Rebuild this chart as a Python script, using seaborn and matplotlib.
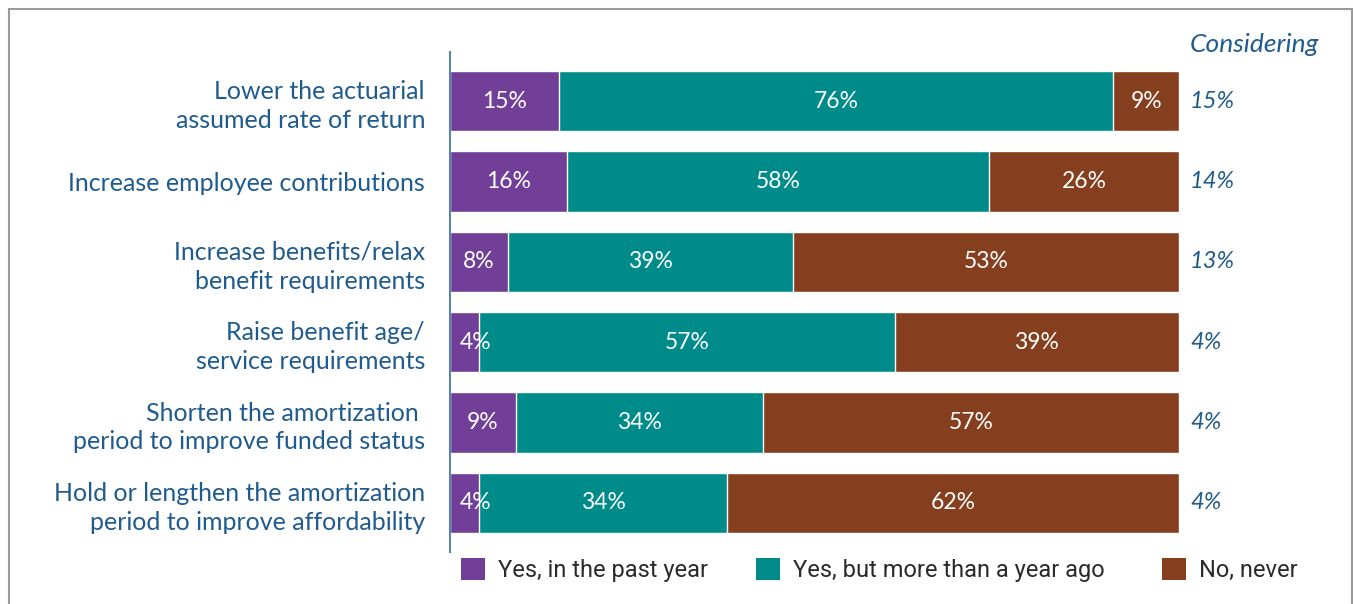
import matplotlib
matplotlib.use("Agg")
import matplotlib.pyplot as plt
import seaborn as sns
import pandas as pd
from matplotlib.patches import Rectangle, Patch
from matplotlib import font_manager

categories = [
    "Lower the actuarial\nassumed rate of return",
    "Increase employee contributions",
    "Increase benefits/relax\nbenefit requirements",
    "Raise benefit age/\nservice requirements",
    "Shorten the amortization \nperiod to improve funded status",
    "Hold or lengthen the amortization\nperiod to improve affordability",
]
series_names = ["Yes, in the past year", "Yes, but more than a year ago", "No, never"]
past_year = [15, 16, 8, 4, 9, 4]
more_than_year = [76, 58, 39, 57, 34, 34]
never = [9, 26, 53, 39, 57, 62]
considering = ["15%", "14%", "13%", "4%", "4%", "4%"]

colors = ["#713F97", "#008B8B", "#853F1F"]
label_color = "#1F5B8E"

sns.set_theme(style="white")
plt.rcParams["font.family"] = ["Lato", "DejaVu Sans"]

avail = {f.name for f in font_manager.fontManager.ttflist}
legend_family = ["Liberation Sans Narrow", "DejaVu Sans"] if "Liberation Sans Narrow" in avail else ["Roboto", "DejaVu Sans"]

fig = plt.figure(figsize=(13.53, 6.04), dpi=100)
ax = fig.add_axes([450/1353, 1-552/604, 729/1353, 500/604])

df = pd.DataFrame({
    "category": categories,
    "past": past_year,
    "more": more_than_year,
    "never": never,
})
df["c1"] = df["past"]
df["c2"] = df["past"] + df["more"]
df["c3"] = df["c2"] + df["never"]

for col, color in zip(["c3", "c2", "c1"], colors[::-1]):
    sns.barplot(data=df, y="category", x=col, orient="h", color=color,
                width=0.75, saturation=1, ax=ax, order=categories)

# segment labels
for i in range(len(categories)):
    starts = [0, past_year[i], past_year[i] + more_than_year[i]]
    vals = [past_year[i], more_than_year[i], never[i]]
    for s, v in zip(starts, vals):
        if v < 6:
            ax.text(s + 1.3, i, f"{v}%", ha="left", va="center",
                    color="white", fontsize=16.5)
        else:
            ax.text(s + v / 2, i, f"{v}%", ha="center", va="center",
                    color="white", fontsize=16.5)
    ax.text(101.5, i, considering[i], ha="left", va="center",
            color=label_color, fontsize=17, style="italic")

ax.text(101.5, -0.7, "Considering", ha="left", va="center",
        color=label_color, fontsize=19, style="italic")

ax.set_xlim(0, 100)
ax.set_ylim(5.61, -0.61)
ax.set_xlabel("")
ax.set_ylabel("")
ax.set_xticks([])
ax.tick_params(axis="y", length=0, pad=18, labelsize=18, labelcolor=label_color)
for lab in ax.get_yticklabels():
    lab.set_horizontalalignment("right")
    lab.set_multialignment("right")
    lab.set_linespacing(1.3)
for s in ["top", "right", "bottom"]:
    ax.spines[s].set_visible(False)
ax.spines["left"].set_color("#5B84AE")
ax.spines["left"].set_linewidth(1.5)

# legend: one entry per legend, placed at the reference positions
legend_x = [461, 756, 1162]
for name, color, lx in zip(series_names, colors, legend_x):
    leg = fig.legend([Patch(facecolor=color, edgecolor="none")], [name],
                     loc="center left", bbox_to_anchor=(lx/1353, 1-570/604),
                     frameon=False, borderpad=0, borderaxespad=0,
                     prop={"family": legend_family, "size": 17},
                     handlelength=1.0, handleheight=1.06, handletextpad=0.55)
    for t in leg.get_texts():
        t.set_color("#2A2A2A")

# figure frame
fig.patches.append(Rectangle((8.5/1353, -0.1), (1351.5-8.5)/1353, 1.1 - 8.5/604,
                             transform=fig.transFigure, fill=False,
                             edgecolor="#999999", linewidth=1.5))

fig.savefig("out.png", dpi=100)
